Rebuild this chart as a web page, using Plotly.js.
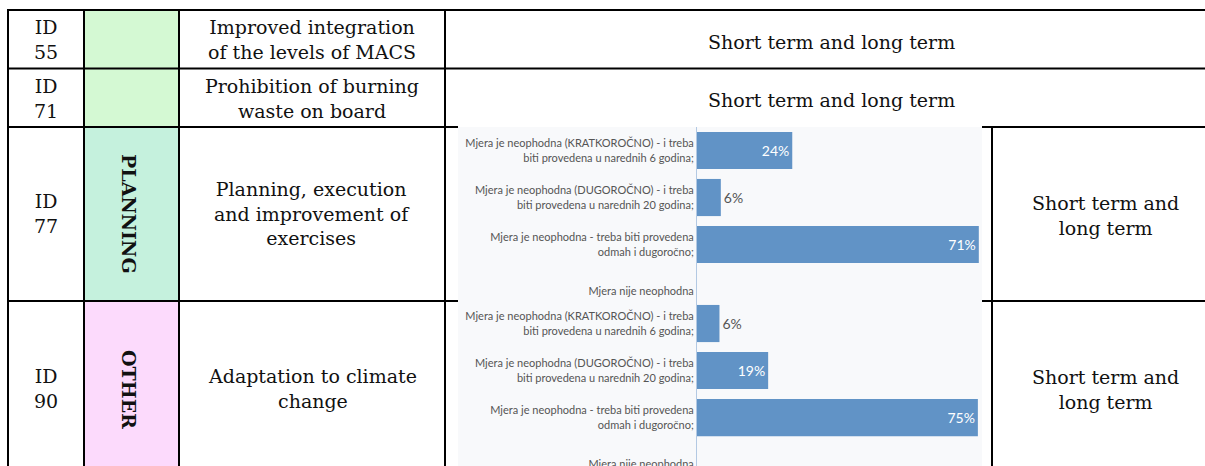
<!DOCTYPE html>
<html><head><meta charset="utf-8">
<script src="https://cdn.plot.ly/plotly-3.0.1.min.js"></script>
<style>html,body{margin:0;padding:0;background:#fff;overflow:hidden}</style>
</head><body>
<div id="chart" style="width:1205px;height:466px"></div>
<script>
// ---------- data ----------
const answerLabels = [
  'Mjera je neophodna (KRATKOROČNO) - i treba<br>biti provedena u narednih 6 godina;',
  'Mjera je neophodna (DUGOROČNO) - i treba<br>biti provedena u narednih 20 godina;',
  'Mjera je neophodna - treba biti provedena<br>odmah i dugoročno;',
  'Mjera nije neophodna'
];
const id77Values = [24, 6, 71, 0];
const id90Values = [6, 19, 75, 0];
const tableIds = ['ID<br>55', 'ID<br>71', 'ID<br>77', 'ID<br>90'];
const tableMeasures = [
  'Improved integration<br>of the levels of MACS',
  'Prohibition of burning<br>waste on board',
  'Planning, execution<br>and improvement of<br>exercises',
  'Adaptation to climate<br>change'
];
const tableCategories = ['', '', 'PLANNING', 'OTHER'];
const tableTerms = [
  'Short term and long term',
  'Short term and long term',
  'Short term and<br>long term',
  'Short term and<br>long term'
];

// ---------- layout helpers ----------
const W = 1205, H = 466;
const px = x => x / W;
const py = y => 1 - y / H;
const barColor = '#6193c6';
const tableFont = {family: 'DejaVu Serif', size: 19, color: '#111'};

function labelText(v) { return v > 0 ? v + '%' : ''; }
function textPos(vals, minInside) { return vals.map(v => v === 0 ? 'none' : (v >= minInside ? 'inside' : 'outside')); }

const traces = [
  {
    type: 'bar', orientation: 'h', x: id77Values, y: answerLabels,
    xaxis: 'x', yaxis: 'y', width: 0.79,
    marker: {color: barColor},
    text: id77Values.map(labelText), textposition: textPos(id77Values, 10),
    insidetextanchor: 'end',
    insidetextfont: {family: 'Lato', size: 14, color: '#ffffff'},
    outsidetextfont: {family: 'Lato', size: 14, color: '#555555'},
    cliponaxis: false, hoverinfo: 'skip'
  },
  {
    type: 'bar', orientation: 'h', x: id90Values, y: answerLabels,
    xaxis: 'x2', yaxis: 'y2', width: 0.79,
    marker: {color: barColor},
    text: id90Values.map(labelText), textposition: textPos(id90Values, 10),
    insidetextanchor: 'end',
    insidetextfont: {family: 'Lato', size: 14, color: '#ffffff'},
    outsidetextfont: {family: 'Lato', size: 14, color: '#555555'},
    cliponaxis: false, hoverinfo: 'skip'
  }
];

const shapes = [];
function rect(x0, y0, x1, y1, fill) {
  shapes.push({type: 'rect', xref: 'paper', yref: 'paper', x0: px(x0), x1: px(x1), y0: py(y1), y1: py(y0),
    fillcolor: fill, line: {width: 0}, layer: 'below'});
}
function line(x0, y0, x1, y1) {
  shapes.push({type: 'line', xref: 'paper', yref: 'paper', x0: px(x0), x1: px(x1), y0: py(y0), y1: py(y1),
    line: {color: '#000', width: 2}, layer: 'below'});
}
// category cell fills
rect(84, 10, 179, 127, '#d4f9d3');
rect(84, 127, 179, 301, '#c5f1dd');
rect(84, 301, 179, 466, '#fcdafc');
// chart image background
rect(458, 127, 982, 466, '#f8f9fb');
// horizontal borders
line(8, 10, 1205, 10);
line(8, 68.5, 1205, 68.5);
line(8, 127, 458, 127); line(982, 127, 1205, 127);
line(8, 301, 458, 301); line(982, 301, 1205, 301);
// vertical borders
[8, 84, 179, 445].forEach(x => line(x, 9, x, 466));
line(992, 127, 992, 466);

const annotations = [];
const rowCenters = [39, 98, 213, 388];
function ann(text, x, y, font, extra) {
  annotations.push(Object.assign({text: text, xref: 'paper', yref: 'paper', x: px(x), y: py(y),
    xanchor: 'center', yanchor: 'middle', showarrow: false, align: 'center', font: font}, extra || {}));
}
tableIds.forEach((t, i) => ann(t, 46, rowCenters[i], tableFont));
tableMeasures.forEach((t, i) => ann(t, 312, rowCenters[i], tableFont));
tableCategories.forEach((t, i) => { if (t) ann('<b>' + t + '</b>', 129, rowCenters[i] + 1,
  {family: 'DejaVu Serif', size: 19, color: '#111'}, {textangle: 90}); });
ann(tableTerms[0], 831, 42, tableFont);
ann(tableTerms[1], 831, 100, tableFont);
ann(tableTerms[2], 1105, 215, tableFont);
ann(tableTerms[3], 1105, 389, tableFont);

const yAxisBase = {
  type: 'category', showgrid: false, zeroline: false, ticks: '', showline: true,
  linecolor: '#b3c9e3', linewidth: 1, automargin: false,
  tickfont: {family: 'Lato', size: 11, color: '#555555'}, ticklabelstandoff: 0
};
const xAxisBase = {showgrid: false, zeroline: false, showticklabels: false, ticks: '', showline: false, fixedrange: true};

const layout = {
  width: W, height: H, margin: {l: 0, r: 0, t: 0, b: 0},
  paper_bgcolor: '#ffffff', plot_bgcolor: 'rgba(0,0,0,0)', showlegend: false, bargap: 0.2,
  xaxis: Object.assign({}, xAxisBase, {domain: [px(697), px(982)], range: [0, 71.8], anchor: 'y'}),
  yaxis: Object.assign({}, yAxisBase, {domain: [py(300), py(127)], range: [3.18, -0.5], anchor: 'x'}),
  xaxis2: Object.assign({}, xAxisBase, {domain: [px(697), px(982)], range: [0, 76.1], anchor: 'y2'}),
  yaxis2: Object.assign({}, yAxisBase, {domain: [0, py(300)], range: [3.03, -0.5], anchor: 'x2'}),
  shapes: shapes, annotations: annotations
};

Plotly.newPlot('chart', traces, layout, {displayModeBar: false, staticPlot: true});
</script>
</body></html>
